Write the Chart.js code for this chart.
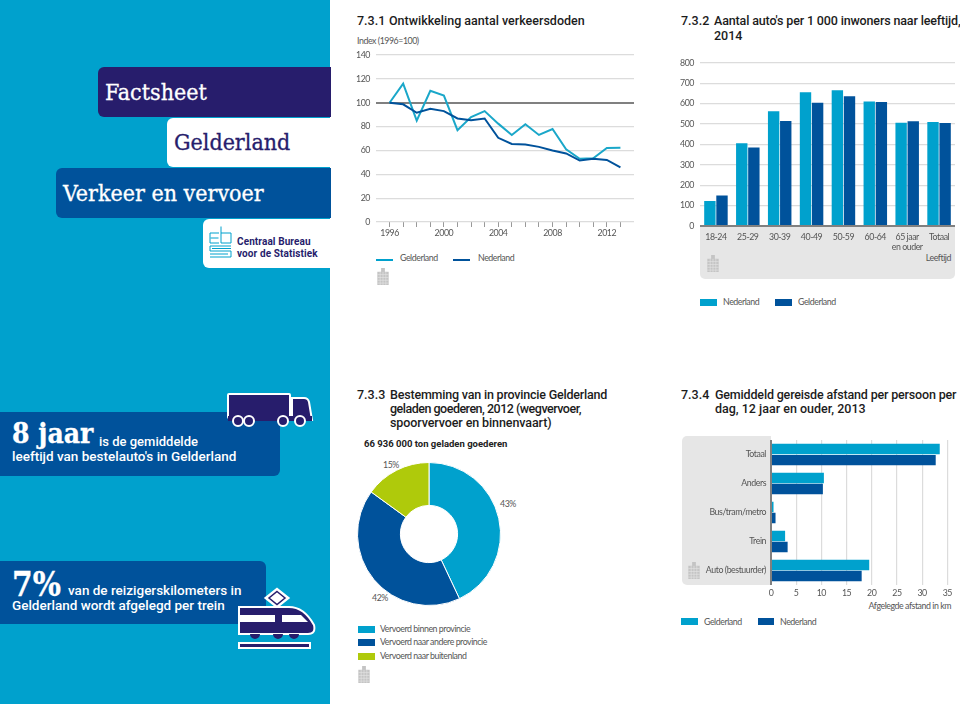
<!DOCTYPE html>
<html>
<head>
<meta charset="utf-8">
<title>Factsheet Gelderland</title>
<script src="https://cdn.jsdelivr.net/npm/chart.js@4"></script>
<style>
html, body { margin: 0; padding: 0; background: #fff; }
#page { position: relative; width: 960px; height: 704px; overflow: hidden; font-family: Lato, sans-serif; color: #555; }
#page div, #page canvas, #page svg { position: absolute; }
.t { white-space: nowrap; line-height: 1; }
.small { font-size: 8.8px; letter-spacing: -.45px; color: #555; }
.title { font-family: Roboto, sans-serif; font-size: 12.5px; font-weight: 500; color: #1c1c1c; }
.slab { font-family: "DejaVu Serif Condensed", "DejaVu Serif", serif; color: #fff; -webkit-text-stroke: .3px; }
.bold { font-family: Roboto, sans-serif; font-weight: 500; color: #fff; font-size: 13.5px; }
</style>
</head>
<body>
<div id="page">
  <div style="left:0;top:0;width:330px;height:704px;background:#00a1cd"></div>
  <div style="left:98px;top:67px;width:233px;height:50px;background:#271d6c;border-radius:6px 0 0 6px"></div>
  <div style="left:167px;top:118px;width:164px;height:49px;background:#fff;border-radius:6px 0 0 6px"></div>
  <div style="left:56px;top:168px;width:275px;height:50px;background:#00529b;border-radius:6px 0 0 6px"></div>
  <div style="left:203px;top:219px;width:128px;height:49px;background:#fff;border-radius:6px 0 0 6px"></div>
  <div class="t slab" style="left:105px;top:81px;font-size:23px">Factsheet</div>
  <div class="t slab" style="left:174px;top:131px;font-size:23px;color:#271d6c">Gelderland</div>
  <div class="t slab" style="left:63px;top:182px;font-size:23px">Verkeer en vervoer</div>
  <div class="t" style="left:237px;top:237px;font-family:Roboto;font-size:10px;font-weight:700;color:#271d6c;letter-spacing:.1px">Centraal Bureau</div>
  <div class="t" style="left:237px;top:249px;font-family:Roboto;font-size:10px;font-weight:700;color:#271d6c;letter-spacing:.1px">voor de Statistiek</div>

  <div style="left:0;top:412px;width:280px;height:64px;background:#00529b;border-radius:0 6px 6px 0"></div>
  <div style="left:0;top:561px;width:266px;height:63px;background:#00529b;border-radius:0 6px 6px 0"></div>
  <div class="t slab" style="left:12px;top:420px;font-size:28px;font-weight:700">8 jaar</div>
  <div class="t bold" style="left:99px;top:435px;font-size:13px">is de gemiddelde</div>
  <div class="t bold" style="left:12px;top:450px">leeftijd van bestelauto's in Gelderland</div>
  <div class="t slab" style="left:12px;top:568px;font-size:33px;font-weight:700">7%</div>
  <div class="t bold" style="left:68px;top:584px">van de reizigerskilometers in</div>
  <div class="t bold" style="left:12px;top:599px">Gelderland wordt afgelegd per trein</div>

  <div style="left:700px;top:226px;width:255px;height:53px;background:#e6e6e6;border-radius:0 0 5px 5px"></div>
  <div style="left:682px;top:436px;width:89px;height:149px;background:#e6e6e6;border-radius:5px 0 0 5px"></div>

  <svg style="left:0;top:0" width="960" height="704" viewBox="0 0 960 704">
    <defs>
      <symbol id="gebouw" viewBox="0 0 12 18">
        <rect x="0" y="4" width="12" height="14" fill="#c4c4c4"/>
        <rect x="4" y="0" width="4" height="5" fill="#c4c4c4"/>
        <path d="M0 7h12M0 10h12M0 13h12M0 16h12M3 4v14M6 4v14M9 4v14" stroke="#e4e4e4" stroke-width=".7"/>
      </symbol>
    </defs>
    <g fill="none" stroke="#00a1cd" stroke-width="1">
      <path d="M219 233h-9v10h9M210.500 238h8M221 226.500v16.500h10v-10h-10"/>
      <path d="M231 246h-21v5h21v6h-21M212 248.500h19M210 254h18"/>
    </g>
    <g stroke="#fff" stroke-width="2" fill="#271d6c">
      <rect x="228" y="394" width="62" height="24" rx="1"/>
      <path d="M292 398h12q4 0 5 4l3 18h-20z"/>
      <rect x="228" y="416" width="84" height="5" stroke="none"/>
      <circle cx="238" cy="421" r="5"/><circle cx="249" cy="421" r="5"/>
      <circle cx="283" cy="421" r="5"/><circle cx="300" cy="421" r="5"/>
      <path d="M277 590l10 8-10 8-10-8z" fill="#fff" stroke-width="4"/>
      <path d="M277 591.500l8 6.500-8 6.500-8-6.500z" fill="#fff" stroke="#271d6c" stroke-width="1.500"/>
      <path d="M239 607h50q15 0 25 18 2 9-6 9h-69z"/>
      <path d="M250 634a5 5 0 0 0 10 0zM273 634a5 5 0 0 0 10 0zM289 634a5 5 0 0 0 10 0z" stroke="none"/>
      <rect x="239" y="643" width="71" height="5"/>
    </g>
    <g fill="#fff">
      <rect x="238" y="615" width="37" height="7"/>
      <path d="M282 615h19l7 7h-26z"/>
    </g>
    <use href="#gebouw" x="377" y="268" width="12" height="17"/>
    <use href="#gebouw" x="707" y="255" width="12" height="17"/>
    <use href="#gebouw" x="358" y="666" width="12" height="17"/>
    <use href="#gebouw" x="688" y="562" width="12" height="17"/>
  </svg>

  <div class="t title" style="left:357px;top:15px">7.3.1</div>
  <div class="t title" style="left:389px;top:15px">Ontwikkeling aantal verkeersdoden</div>
  <div class="t small" style="left:357px;top:37px">Index (1996=100)</div>
  <div class="t title" style="left:681px;top:15px">7.3.2</div>
  <div class="t title" style="left:714px;top:15px;letter-spacing:-.15px">Aantal auto's per 1 000 inwoners naar leeftijd,</div>
  <div class="t title" style="left:714px;top:30px">2014</div>
  <div class="t title" style="left:357px;top:389px">7.3.3</div>
  <div class="t title" style="left:390px;top:389px;letter-spacing:-.2px">Bestemming van in provincie Gelderland</div>
  <div class="t title" style="left:390px;top:403px;letter-spacing:-.5px">geladen goederen, 2012 (wegvervoer,</div>
  <div class="t title" style="left:390px;top:417px;letter-spacing:-.1px">spoorvervoer en binnenvaart)</div>
  <div class="t" style="left:364px;top:439px;font-family:Roboto;font-size:9.500px;font-weight:700;color:#222">66 936 000 ton geladen goederen</div>
  <div class="t title" style="left:681px;top:389px">7.3.4</div>
  <div class="t title" style="left:715px;top:389px;letter-spacing:-.17px">Gemiddeld gereisde afstand per persoon per</div>
  <div class="t title" style="left:715px;top:403px">dag, 12 jaar en ouder, 2013</div>

  <div class="t small" style="right:9px;top:254px">Leeftijd</div>
  <div class="t small" style="right:9px;top:602px">Afgelegde afstand in km</div>
  <div class="t small" style="left:383px;top:461px">15%</div>
  <div class="t small" style="left:500px;top:500px">43%</div>
  <div class="t small" style="left:372px;top:594px">42%</div>

  <div style="left:376px;top:259px;width:17px;height:2px;background:#00a1cd"></div>
  <div class="t small" style="left:400px;top:254px">Gelderland</div>
  <div style="left:453px;top:259px;width:17px;height:2px;background:#00529b"></div>
  <div class="t small" style="left:478px;top:254px">Nederland</div>

  <div style="left:700px;top:299px;width:17px;height:7px;background:#00a1cd"></div>
  <div class="t small" style="left:723px;top:298px">Nederland</div>
  <div style="left:775px;top:299px;width:17px;height:7px;background:#00529b"></div>
  <div class="t small" style="left:798px;top:298px">Gelderland</div>

  <div style="left:358px;top:626px;width:17px;height:6.500px;background:#00a1cd"></div>
  <div class="t small" style="left:380px;top:625px">Vervoerd binnen provincie</div>
  <div style="left:358px;top:639px;width:17px;height:6.500px;background:#00529b"></div>
  <div class="t small" style="left:380px;top:638px">Vervoerd naar andere provincie</div>
  <div style="left:358px;top:653px;width:17px;height:6.500px;background:#afca0b"></div>
  <div class="t small" style="left:380px;top:652px">Vervoerd naar buitenland</div>

  <div style="left:681px;top:618px;width:17px;height:6.500px;background:#00a1cd"></div>
  <div class="t small" style="left:704px;top:618px">Gelderland</div>
  <div style="left:758px;top:618px;width:16px;height:6.500px;background:#00529b"></div>
  <div class="t small" style="left:780px;top:618px">Nederland</div>

  <canvas id="chart1" width="290" height="200" style="left:350px;top:44px"></canvas>
  <canvas id="chart2" width="300" height="206" style="left:660px;top:50px"></canvas>
  <canvas id="chart3" width="150" height="150" style="left:354px;top:459px"></canvas>
  <canvas id="chart4" width="290" height="175" style="left:670px;top:430px"></canvas>
</div>

<script>
// 7.3.1 verkeersdoden
const jaren = [1996, 1997, 1998, 1999, 2000, 2001, 2002, 2003, 2004, 2005, 2006, 2007, 2008, 2009, 2010, 2011, 2012, 2013];
const dodenGelderland = [100, 116, 85, 110, 106, 77, 88, 93, 82.5, 73, 82, 73, 78, 61, 53, 53.5, 62, 62.3];
const dodenNederland = [100, 98.7, 91.6, 95, 93, 86.8, 85.4, 86.8, 70.6, 65.5, 65, 63, 60, 57.5, 51.5, 53, 52, 45.8];

// 7.3.2 auto's per 1 000 inwoners
const leeftijden = ['18-24', '25-29', '30-39', '40-49', '50-59', '60-64', ['65 jaar', 'en ouder'], 'Totaal'];
const autosNederland = [122, 406, 562, 655, 665, 610, 506, 510];
const autosGelderland = [150, 384, 514, 604, 636, 607, 513, 504];

// 7.3.3 bestemming goederen
const bestemmingen = ['Vervoerd binnen provincie', 'Vervoerd naar andere provincie', 'Vervoerd naar buitenland'];
const bestemmingAandeel = [43, 42, 15];

// 7.3.4 afstand per persoon
const vervoerwijzen = ['Totaal', 'Anders', 'Bus/tram/metro', 'Trein', 'Auto (bestuurder)'];
const afstandGelderland = [33.5, 10.5, 0.5, 2.8, 19.5];
const afstandNederland = [32.7, 10.3, 0.9, 3.3, 18];

const lichtblauw = '#00a1cd';
const donkerblauw = '#00529b';
const groen = '#afca0b';
const gridKleur = '#dcdcdc';
const asKleur = '#808080';
const tekstKleur = '#555';
const tickFont = { family: 'Lato', size: 8.8, lineHeight: 1.15 };

// The reference type is narrower than anything installed
Chart.register({
    id: 'smalleTekst',
    beforeDraw(chart) {
        chart.ctx.letterSpacing = '-0.45px';
    }
});

// Fix the axis thickness so the plot areas land where they should
function fixWidth(size) {
    return scale => { scale.width = size; };
}
function fixHeight(size) {
    return scale => { scale.height = size; };
}

const baseOptions = {
    responsive: false,
    animation: false,
    plugins: { legend: { display: false }, tooltip: { enabled: false } }
};

// Create line chart 7.3.1
new Chart(document.getElementById('chart1'), {
    type: 'line',
    data: {
        datasets: [
            { label: 'Nederland', data: jaren.map((j, i) => ({ x: j, y: dodenNederland[i] })), borderColor: donkerblauw, borderWidth: 2, pointRadius: 0, tension: 0 },
            { label: 'Gelderland', data: jaren.map((j, i) => ({ x: j, y: dodenGelderland[i] })), borderColor: '#1aa7c9', borderWidth: 2, pointRadius: 0, tension: 0 }
        ]
    },
    options: {
        ...baseOptions,
        layout: { autoPadding: false, padding: { top: 10, right: 6 } },
        scales: {
            x: {
                type: 'linear', min: 1995, max: 2014,
                afterFit: fixHeight(22),
                border: { display: false },
                grid: {
                    drawOnChartArea: false, tickLength: 5,
                    tickColor: c => (c.tick.value === 1995 || c.tick.value === 2014) ? 'transparent' : '#999'
                },
                ticks: {
                    stepSize: 1, autoSkip: false, maxRotation: 0, color: tekstKleur, font: tickFont, padding: 1,
                    callback: v => (v % 4 === 0 && v > 1995 && v < 2014) ? String(v) : ''
                }
            },
            y: {
                min: 0, max: 140,
                afterFit: fixWidth(26),
                border: { display: false },
                grid: {
                    drawTicks: false,
                    color: c => c.tick.value === 100 ? asKleur : gridKleur,
                    lineWidth: c => c.tick.value === 100 ? 2 : 1.2
                },
                ticks: { stepSize: 20, color: tekstKleur, font: tickFont, padding: 6 }
            }
        }
    }
});

// Create bar chart 7.3.2
new Chart(document.getElementById('chart2'), {
    type: 'bar',
    data: {
        labels: leeftijden,
        datasets: [
            { label: 'Nederland', data: autosNederland, backgroundColor: lichtblauw },
            { label: 'Gelderland', data: autosGelderland, backgroundColor: donkerblauw }
        ]
    },
    options: {
        ...baseOptions,
        datasets: { bar: { categoryPercentage: 0.76, barPercentage: 0.94 } },
        layout: { autoPadding: false, padding: { top: 12.7, right: 5 } },
        scales: {
            x: {
                afterFit: fixHeight(30),
                border: { display: false },
                grid: { display: false, drawTicks: false },
                ticks: { color: tekstKleur, font: tickFont, padding: 6, maxRotation: 0, autoSkip: false }
            },
            y: {
                min: 0, max: 800,
                afterFit: fixWidth(40),
                border: { display: false },
                grid: {
                    drawTicks: false,
                    color: c => c.tick.value === 0 ? asKleur : gridKleur,
                    lineWidth: c => c.tick.value === 0 ? 2 : 1.2
                },
                ticks: { stepSize: 100, color: tekstKleur, font: tickFont, padding: 6 }
            }
        }
    }
});

// Create doughnut chart 7.3.3
new Chart(document.getElementById('chart3'), {
    type: 'doughnut',
    data: {
        labels: bestemmingen,
        datasets: [{
            data: bestemmingAandeel,
            backgroundColor: [lichtblauw, donkerblauw, groen],
            borderColor: '#fff',
            borderWidth: 1
        }]
    },
    options: {
        ...baseOptions,
        cutout: '40%',
        layout: { padding: 3 }
    }
});

// Create horizontal bar chart 7.3.4
new Chart(document.getElementById('chart4'), {
    type: 'bar',
    data: {
        labels: vervoerwijzen,
        datasets: [
            { label: 'Gelderland', data: afstandGelderland, backgroundColor: lichtblauw },
            { label: 'Nederland', data: afstandNederland, backgroundColor: donkerblauw }
        ]
    },
    options: {
        ...baseOptions,
        indexAxis: 'y',
        datasets: { bar: { categoryPercentage: 0.76, barPercentage: 0.94 } },
        layout: { autoPadding: false, padding: { top: 3.5, right: 12.7 } },
        scales: {
            x: {
                min: 0, max: 35,
                afterFit: fixHeight(20),
                border: { display: false },
                grid: {
                    drawTicks: false,
                    color: c => c.tick.value === 0 ? asKleur : gridKleur,
                    lineWidth: c => c.tick.value === 0 ? 2 : 1.2
                },
                ticks: { stepSize: 5, color: tekstKleur, font: tickFont, padding: 3, maxRotation: 0 }
            },
            y: {
                afterFit: fixWidth(101),
                border: { display: false },
                grid: { display: false, drawTicks: false },
                ticks: { color: tekstKleur, font: tickFont, padding: 5, autoSkip: false }
            }
        }
    }
});
</script>
</body>
</html>
